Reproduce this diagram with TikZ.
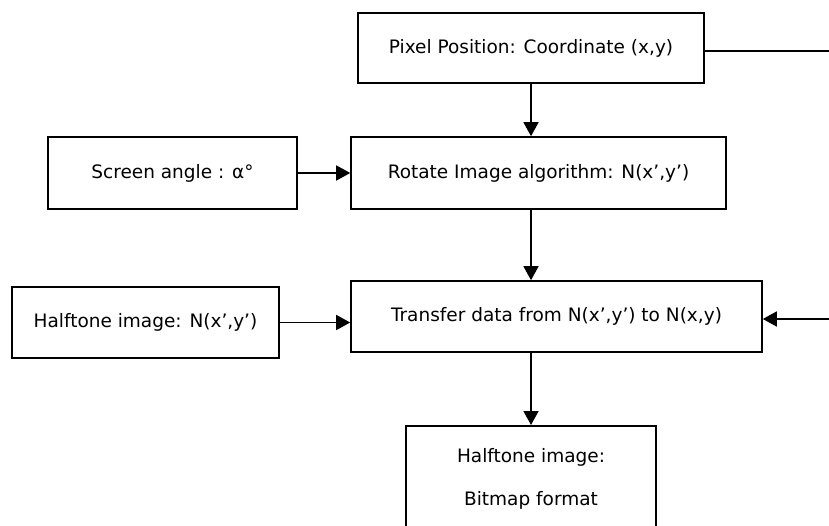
\documentclass[tikz,border=0pt]{standalone}
\usepackage{fontspec}
\setmainfont{DejaVu Sans}
\usetikzlibrary{arrows.meta}
\tikzset{
  box/.style={draw, line width=1.6pt, inner sep=0pt, align=center,
    font=\fontsize{18.5}{22}\selectfont},
  flow/.style={line width=1.6pt, -{Triangle[length=14pt,width=15pt]}},
  plain/.style={line width=1.6pt},
}
\begin{document}
\begin{tikzpicture}[x=1pt,y=-1pt]
  \clip (0,0) rectangle (829,526);
  \fill[white] (0,0) rectangle (829,526);

  % boxes (centre, width, height in pt)
  \node[box, minimum width=346pt, minimum height=70pt] (pix) at (531,48)
    {Pixel Position: Coordinate (x,y)};
  \node[box, minimum width=375pt, minimum height=72pt] (rot) at (538.5,173)
    {Rotate Image algorithm: N(x',y')};
  \node[box, minimum width=249pt, minimum height=72pt] (ang) at (172.5,173)
    {Screen angle : α°};
  \node[box, minimum width=411pt, minimum height=71pt] (tra) at (556.5,316.5)
    {Transfer data from N(x',y') to N(x,y)};
  \node[box, minimum width=267pt, minimum height=71pt] (hal) at (145.5,322.5)
    {Halftone image: N(x',y')};
  \node[box, minimum width=250pt, minimum height=107pt, anchor=north,
        font=\fontsize{18.5}{43}\selectfont] (bmp) at (531,425)
    {Halftone image:\\Bitmap format};

  % free ends at the right border
  \coordinate (outR) at (829,51);
  \coordinate (inR) at (829,319);

  % connectors
  \draw[flow] (pix.south) -- (pix.south |- rot.north);
  \draw[flow] (ang.east) -- (ang.east -| rot.west);
  \draw[flow] (pix.south |- rot.south) -- (pix.south |- tra.north);
  \draw[flow] (hal.east) -- (hal.east -| tra.west);
  \draw[flow] (inR) -- (inR -| tra.east);
  \draw[flow] (pix.south |- tra.south) -- (bmp.north);
  \draw[plain] (outR -| pix.east) -- (outR);
\end{tikzpicture}
\end{document}
